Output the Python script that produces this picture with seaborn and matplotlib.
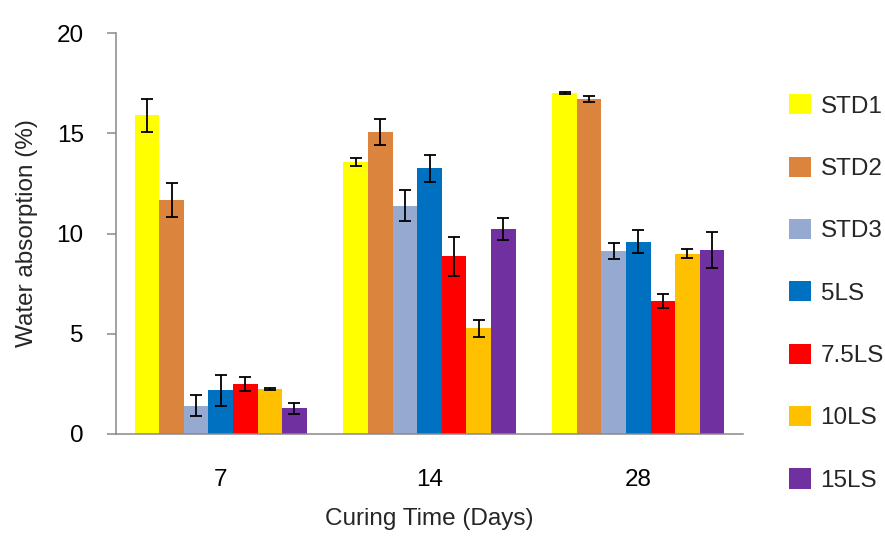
import matplotlib
matplotlib.use("Agg")
import matplotlib.pyplot as plt
import seaborn as sns
import pandas as pd

# DATA
days = ["7", "14", "28"]
samples = ["STD1", "STD2", "STD3", "5LS", "7.5LS", "10LS", "15LS"]
colors = ["#FFFF00", "#DB843D", "#95A9D1", "#0070C0", "#FF0000", "#FFC000", "#7030A0"]

# rata-rata penyerapan air (%) per sampel, satu list per umur
wa_7 = [15.9, 11.67, 1.41, 2.18, 2.49, 2.24, 1.28]
wa_14 = [13.57, 15.04, 11.39, 13.25, 8.86, 5.27, 10.21]
wa_28 = [16.99, 16.71, 9.13, 9.59, 6.62, 9.00, 9.16]

# standar deviasi (error bar)
sd_7 = [0.82, 0.83, 0.52, 0.76, 0.35, 0.03, 0.27]
sd_14 = [0.18, 0.65, 0.77, 0.67, 0.97, 0.43, 0.54]
sd_28 = [0.05, 0.15, 0.42, 0.56, 0.36, 0.24, 0.90]

rows = []
for day, vals, sds in zip(days, [wa_7, wa_14, wa_28], [sd_7, sd_14, sd_28]):
    for s, v, e in zip(samples, vals, sds):
        rows.append({"day": day, "sample": s, "value": v, "err": e})
df = pd.DataFrame(rows)

# STYLE
sns.set_style("white")
plt.rcParams["font.family"] = ["Liberation Sans", "DejaVu Sans"]
FS = 17.5
SPINE = "#898989"

fig = plt.figure(figsize=(8.85, 5.45), dpi=100)
ax = fig.add_axes([116.3 / 885, 111 / 545, 626.4 / 885, 401 / 545])

sns.barplot(data=df, x="day", y="value", hue="sample", order=days,
            hue_order=samples, palette=colors, saturation=1, width=0.824,
            errorbar=None, linewidth=0, ax=ax)

# error bar manual dari posisi bar
for cont, s in zip(ax.containers, samples):
    sub = df[df["sample"] == s].set_index("day").loc[days]
    xs = [b.get_x() + b.get_width() / 2 for b in cont]
    ys = [b.get_height() for b in cont]
    ax.errorbar(xs, ys, yerr=sub["err"].values, fmt="none", ecolor="black",
                elinewidth=1.3, capsize=4.4, capthick=1.3, zorder=5)

ax.set_xlim(-0.5, 2.5)
ax.set_ylim(0, 20)
ax.set_yticks([0, 5, 10, 15, 20])
sns.despine(ax=ax)
for sp in ["left", "bottom"]:
    ax.spines[sp].set_color(SPINE)
    ax.spines[sp].set_linewidth(1.1)

ax.tick_params(axis="x", length=0, pad=25, labelsize=FS, labelcolor="black")
ax.tick_params(axis="y", length=6.5, width=1.1, color=SPINE, pad=17,
               labelsize=FS, labelcolor="black", left=True)

ax.set_xlabel("Curing Time (Days)", fontsize=FS)
ax.set_ylabel("Water absorption (%)", fontsize=FS)
ax.xaxis.set_label_coords(0.5, (434 - 508) / 401)
ax.yaxis.set_label_coords((38 - 116.3) / 626.4, 0.5)

handles, labels = ax.get_legend_handles_labels()
ax.legend(handles, labels, loc="center left", bbox_to_anchor=(789 / 885, 1 - 293 / 545),
          bbox_transform=fig.transFigure, frameon=False, fontsize=FS,
          borderpad=0, borderaxespad=0, handlelength=0.9, handleheight=0.9,
          handletextpad=0.4, labelspacing=1.60)

plt.savefig("out.png", dpi=100)
